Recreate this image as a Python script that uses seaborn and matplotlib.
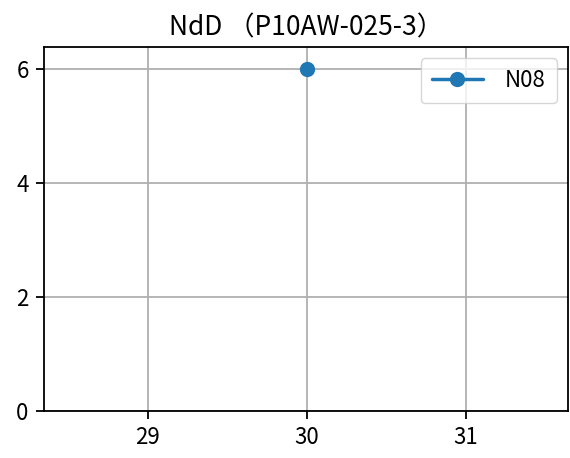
import matplotlib
matplotlib.use("Agg")
import matplotlib.pyplot as plt
import seaborn as sns
import pandas as pd

# Data
days = [30]
counts = [6]
series = ["N08"]

df = pd.DataFrame({"day": days, "count": counts, "series": series})

sns.set_style("ticks", {
    "text.color": "black",
    "axes.labelcolor": "black",
    "xtick.color": "black",
    "ytick.color": "black",
    "axes.edgecolor": "black",
})
plt.rcParams['font.family'] = ['Noto Sans CJK JP', 'DejaVu Sans']

fig = plt.figure(figsize=(5.7, 4.58), dpi=100)
ax = fig.add_axes([44 / 570, 1 - 411 / 458, 524 / 570, 364 / 458])

sns.lineplot(
    data=df,
    x="day",
    y="count",
    hue="series",
    palette=["#1f77b4"],
    marker="o",
    markersize=11,
    markeredgewidth=0,
    linewidth=2.5,
    ax=ax
)

ax.set_xlim(28.35, 31.64)
ax.set_ylim(0, 6.39)
ax.set_xticks([29, 30, 31])
ax.set_yticks([0, 2, 4, 6])
ax.tick_params(labelsize=16, width=1.3, length=6, pad=5)
ax.grid(True, color="#b0b0b0", linewidth=1.3)
for s in ax.spines.values():
    s.set_linewidth(1.3)

ax.set_title("NdD （P10AW-025-3）", fontsize=19, pad=8)
ax.set_xlabel("")
ax.set_ylabel("")
ax.legend(loc="upper right", fontsize=16, title=None, borderpad=0.5,
          handlelength=2.3, handletextpad=1.0)

fig.savefig("out.png", dpi=100)
